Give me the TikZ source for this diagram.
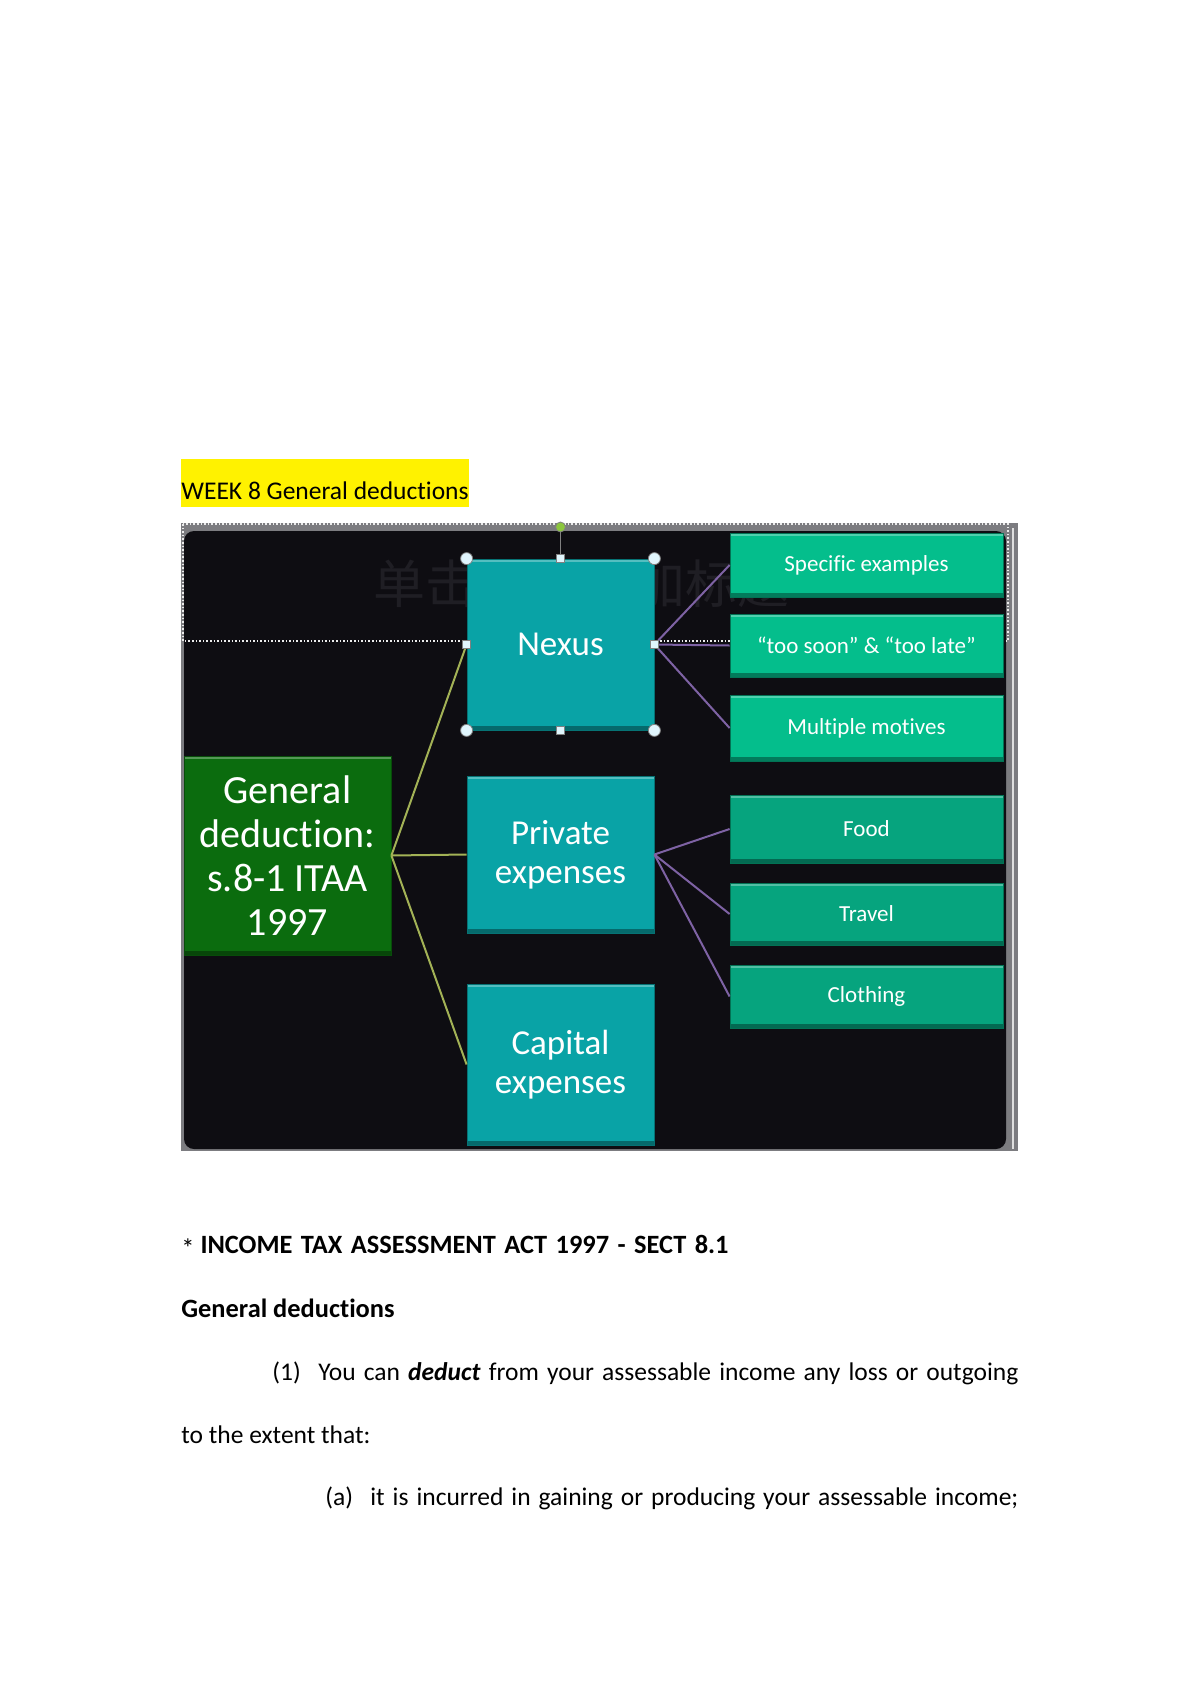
\documentclass[tikz,border=0pt]{standalone}
\usepackage{fontspec}
\setmainfont{Carlito}[Ligatures=NoCommon]
\newfontfamily\cjkfont{Noto Sans CJK SC}
\usetikzlibrary{calc}

\definecolor{slidebg}{HTML}{0E0D12}
\definecolor{framegray}{HTML}{7C7C80}
\definecolor{gendark}{HTML}{0B6C0E}
\definecolor{tealbox}{HTML}{09A3A6}
\definecolor{mintbox}{HTML}{04BE8C}
\definecolor{mintdark}{HTML}{06A47E}
\definecolor{limeline}{HTML}{A3B256}
\definecolor{violetline}{HTML}{7E62A4}
\definecolor{ghost}{HTML}{1F1E24}
\definecolor{knobgreen}{HTML}{8CC63E}

\tikzstyle{bevel}=[path picture={
  \fill[white,opacity=0.3] (path picture bounding box.north west) rectangle ([yshift=-1.5pt]path picture bounding box.north east);
  \fill[black,opacity=0.35] (path picture bounding box.south west) rectangle ([yshift=2pt]path picture bounding box.south east);}]
\tikzstyle{block}=[rectangle,text=white,align=center,inner sep=0pt,bevel]
\tikzstyle{genbox}=[block,fill=gendark,draw=gendark!70!black,minimum width=103.5pt,minimum height=99.5pt,font=\fontsize{20}{22}\selectfont]
\tikzstyle{midbox}=[block,fill=tealbox,draw=tealbox!70!black,minimum width=93.5pt,font=\fontsize{17.5}{19.5}\selectfont]
\tikzstyle{leafbox}=[block,fill=mintbox,draw=mintbox!60!black,minimum width=136.5pt,font=\fontsize{11.5}{13}\selectfont]
\tikzstyle{knob}=[circle,fill=white!88!cyan,draw=gray,minimum size=6pt,inner sep=0pt]
\tikzstyle{grip}=[rectangle,fill=cyan!12,draw=gray,minimum size=4pt,inner sep=0pt]
\tikzstyle{spoke}=[line width=1pt,limeline]
\tikzstyle{twig}=[line width=1pt,violetline]
\tikzstyle{bodytext}=[anchor=base west,inner sep=0pt,font=\fontsize{12.75}{15}\selectfont]
\tikzstyle{boldtext}=[bodytext,font=\bfseries\fontsize{13.2}{15}\selectfont]

\begin{document}
\begin{tikzpicture}[x=0.5pt,y=-0.5pt]
\useasboundingbox (0,0) rectangle (1200,1697);
\fill[white] (0,0) rectangle (1200,1697);

% heading above the slide
\node[bodytext,fill=yellow,text height=20pt,text depth=4pt] (week) at (181,499) {WEEK 8 General deductions};

% slide frame
\fill[framegray] (181,523) rectangle (1018,1151);
\draw[white!75!gray,line width=0.8pt] (1013,528) -- (1013,1149);
\fill[slidebg,rounded corners=5pt] (184,531) rectangle (1006,1149);
\node[anchor=west,inner sep=0pt,text=ghost,font=\cjkfont\fontsize{26}{26}\selectfont] (ghosttitle) at (373,584) {单击此处添加标题};
\draw[white!85!gray,densely dotted,line width=0.8pt] (183,524) rectangle (1008,641);

% vertices
\node[genbox] (gen) at (287.5,855.5) {General\\deduction:\\s.8-1 ITAA\\1997};
\node[midbox,minimum height=85.5pt] (nexus) at (560.5,644.5) {Nexus};
\node[midbox,minimum height=78.5pt] (private) at (560.5,854.5) {Private\\expenses};
\node[midbox,minimum height=80.5pt] (capital) at (560.5,1064.5) {Capital\\expenses};

\node[leafbox,minimum height=32pt] (spec) at (866.5,565) {Specific examples};
\node[leafbox,minimum height=31.5pt] (soon) at (866.5,645.5) {``too soon'' \& ``too late''};
\node[leafbox,minimum height=33pt] (multi) at (866.5,728) {Multiple motives};
\node[leafbox,fill=mintdark,minimum height=34pt] (food) at (866.5,829) {Food};
\node[leafbox,fill=mintdark,minimum height=31pt] (travel) at (866.5,914) {Travel};
\node[leafbox,fill=mintdark,minimum height=31.5pt] (cloth) at (866.5,996.5) {Clothing};

% edges
\draw[spoke] (gen.east) -- (nexus.west);
\draw[spoke] (gen.east) -- (private.west);
\draw[spoke] (gen.east) -- (capital.west);
\draw[twig] (nexus.east) -- (spec.west);
\draw[twig] (nexus.east) -- (soon.west);
\draw[twig] (nexus.east) -- (multi.west);
\draw[twig] (private.east) -- (food.west);
\draw[twig] (private.east) -- (travel.west);
\draw[twig] (private.east) -- (cloth.west);

% selection handles on nexus
\node[circle,fill=knobgreen,draw=gray,minimum size=5pt,inner sep=0pt] (turn) at (560.5,527) {};
\draw[gray] (turn) -- (nexus.north);
\foreach \c in {north west,north east,south west,south east}
  \node[knob] at (nexus.\c) {};
\foreach \m in {north,south,west,east}
  \node[grip] at (nexus.\m) {};

% text below the slide
\node[boldtext] (act) at (181,1253) {{\mdseries\raisebox{-2pt}{*}} \makebox[264pt][s]{INCOME TAX ASSESSMENT ACT 1997 - SECT 8.1}};
\node[boldtext] (gd) at (181,1317) {General deductions};
\node[bodytext] (one) at (272,1380) {(1)};
\node[bodytext] (onetext) at (318,1380) {\makebox[350pt][s]{You can \textbf{\textit{deduct}} from your assessable income any loss or outgoing}};
\node[bodytext] (extent) at (181,1443) {to the extent that:};
\node[bodytext] (a) at (325,1505) {(a)};
\node[bodytext] (atext) at (370,1505) {\makebox[324pt][s]{it is incurred in gaining or producing your assessable income;}};
\end{tikzpicture}
\end{document}
